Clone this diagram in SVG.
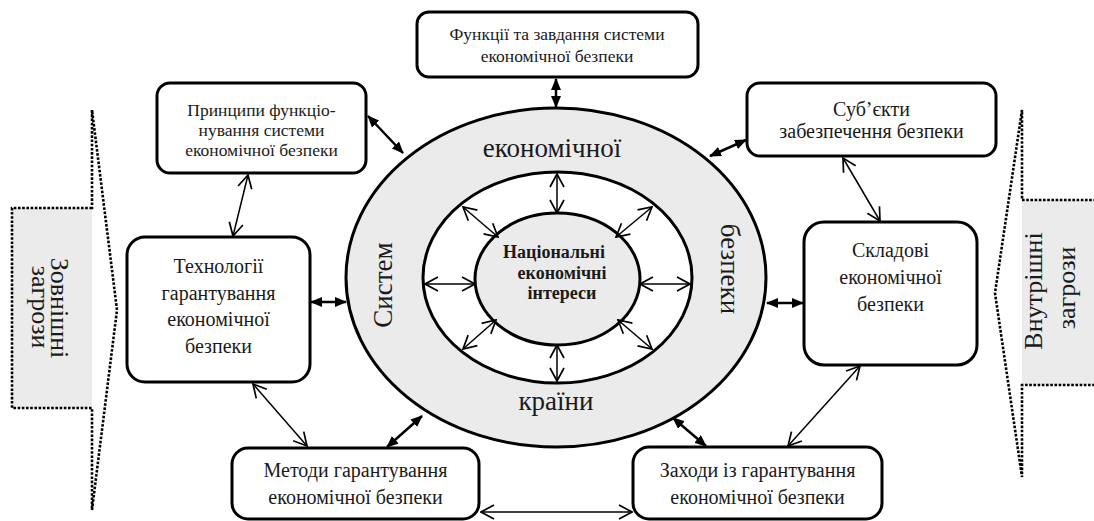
<svg xmlns="http://www.w3.org/2000/svg" width="1094" height="521" viewBox="0 0 1094 521">
<style>
.box{fill:#fff;stroke:#000;stroke-width:3}
.t{font-family:"Liberation Serif","Times New Roman",serif;fill:#1a1a1a;text-anchor:middle}
.s17{font-size:17.5px}
.s20{font-size:20px}
.big{font-size:27px}
.thr{font-size:26px}
.bold{font-weight:bold;font-size:18px}
.fa{stroke:#000;stroke-width:2.5;fill:none;marker-start:url(#fh);marker-end:url(#fh)}
.oa{stroke:#000;stroke-width:1.5;fill:none;marker-start:url(#oh);marker-end:url(#oh)}
.dot{fill:none;stroke:#000;stroke-width:2.6;stroke-dasharray:2.6 1.6}
</style>
<defs>
<marker id="fh" markerUnits="userSpaceOnUse" markerWidth="12" markerHeight="10" refX="11" refY="5" orient="auto-start-reverse">
<path d="M0,0 L12,5 L0,10 z" fill="#000"/>
</marker>
<marker id="oh" markerUnits="userSpaceOnUse" markerWidth="15" markerHeight="16" refX="14" refY="8" orient="auto-start-reverse">
<path d="M1,1 L14,8 L1,15" fill="none" stroke="#000" stroke-width="1.7"/>
</marker>
</defs>

<g id="threat-external">
<rect x="12" y="208" width="80" height="200" fill="#ebebeb"/>
<path class="dot" d="M92,208 L12,208 L12,408 L92,408 L92,510 L117,310 L92,110 Z"/>
<text class="t thr" transform="translate(51,308) rotate(90)">Зовнішні</text>
<text class="t thr" transform="translate(32,307) rotate(90)">загрози</text>
</g>

<g id="threat-internal">
<rect x="1022" y="200" width="72" height="185" fill="#ebebeb"/>
<path class="dot" d="M1096,200 L1022,200 L1022,110 L995,293 L1022,477 L1022,385 L1096,385"/>
<text class="t thr" transform="translate(1042,291) rotate(-90)">Внутрішні</text>
<text class="t thr" transform="translate(1074.5,288) rotate(-90)">загрози</text>
</g>

<g id="system-ellipse">
<ellipse cx="556" cy="277.5" rx="210" ry="169.5" fill="#ebebeb" stroke="#000" stroke-width="3"/>
<text class="t big" x="552" y="157">економічної</text>
<text class="t big" x="556" y="410">країни</text>
<text class="t big" transform="translate(392,285) rotate(-90)">Систем</text>
<text class="t big" transform="translate(721,269) rotate(90)">безпеки</text>
</g>

<g id="middle-ring">
<ellipse cx="557.5" cy="277.5" rx="134.5" ry="105.5" fill="#fff" stroke="#000" stroke-width="3"/>
</g>

<g id="national-interests">
<ellipse cx="557.5" cy="279" rx="82.5" ry="66" fill="#ebebeb" stroke="#000" stroke-width="3"/>
<text class="t bold" x="554" y="258">Національні</text>
<text class="t bold" x="562" y="278.5">економічні</text>
<text class="t bold" x="562" y="299">інтереси</text>
</g>

<g id="functions">
<rect class="box" x="417" y="12" width="281" height="65" rx="12"/>
<text class="t s17" x="557" y="40">Функції та завдання системи</text>
<text class="t s17" x="557" y="62">економічної безпеки</text>
</g>

<g id="principles">
<rect class="box" x="157" y="83" width="209" height="90" rx="13"/>
<text class="t s17" x="261.5" y="116">Принципи функціо-</text>
<text class="t s17" x="261.5" y="136">нування системи</text>
<text class="t s17" x="261.5" y="156">економічної безпеки</text>
</g>

<g id="subjects">
<rect class="box" x="747" y="83" width="249" height="73" rx="13"/>
<text class="t s20" x="871.5" y="116">Суб’єкти</text>
<text class="t s20" x="871.5" y="138">забезпечення безпеки</text>
</g>

<g id="technologies">
<rect class="box" x="127" y="237" width="183" height="145" rx="18"/>
<text class="t s20" x="218.5" y="273">Технології</text>
<text class="t s20" x="218.5" y="299.5">гарантування</text>
<text class="t s20" x="218.5" y="326">економічної</text>
<text class="t s20" x="218.5" y="352.5">безпеки</text>
</g>

<g id="components">
<rect class="box" x="804" y="222" width="173" height="143" rx="20"/>
<text class="t s20" x="890.5" y="257">Складові</text>
<text class="t s20" x="890.5" y="284">економічної</text>
<text class="t s20" x="890.5" y="311">безпеки</text>
</g>

<g id="methods">
<rect class="box" x="232" y="448" width="247" height="71" rx="16"/>
<text class="t s20" x="355.5" y="477">Методи гарантування</text>
<text class="t s20" x="355.5" y="503.5">економічної безпеки</text>
</g>

<g id="measures">
<rect class="box" x="633" y="447" width="249" height="72" rx="16"/>
<text class="t s20" x="757.5" y="477">Заходи із гарантування</text>
<text class="t s20" x="757.5" y="503.5">економічної безпеки</text>
</g>

<g id="connectors">
<line class="fa" x1="556" y1="79" x2="556" y2="107"/>
<line class="fa" x1="368" y1="116" x2="403" y2="153"/>
<line class="fa" x1="746" y1="140" x2="710" y2="156"/>
<line class="fa" x1="311" y1="302" x2="346" y2="302"/>
<line class="fa" x1="767" y1="303" x2="803" y2="303"/>
<line class="fa" x1="387" y1="447" x2="422" y2="416"/>
<line class="fa" x1="673" y1="418" x2="706" y2="446"/>
<line class="oa" x1="248" y1="175" x2="233" y2="236"/>
<line class="oa" x1="253" y1="384" x2="307" y2="446"/>
<line class="oa" x1="843" y1="158" x2="880" y2="221"/>
<line class="oa" x1="860" y1="366" x2="788" y2="446"/>
<line class="oa" x1="481" y1="512" x2="632" y2="512"/>
<line class="oa" x1="557" y1="174" x2="557" y2="213"/>
<line class="oa" x1="557" y1="345" x2="557" y2="381"/>
<line class="oa" x1="425" y1="284" x2="475" y2="284"/>
<line class="oa" x1="640" y1="284" x2="690" y2="284"/>
<line class="oa" x1="463" y1="207" x2="498" y2="237"/>
<line class="oa" x1="652" y1="207" x2="616" y2="237"/>
<line class="oa" x1="463" y1="349" x2="496" y2="320"/>
<line class="oa" x1="652" y1="349" x2="618" y2="320"/>
</g>
</svg>
